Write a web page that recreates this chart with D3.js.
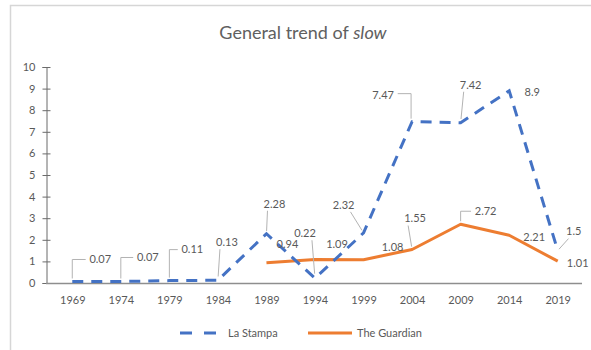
<!DOCTYPE html>
<html>
<head>
<meta charset="utf-8">
<script src="https://cdn.jsdelivr.net/npm/d3@7"></script>
<style>
  html, body { margin: 0; padding: 0; background: #fff; }
  svg { display: block; font-family: Lato, "Open Sans", sans-serif; }
</style>
</head>
<body>
<svg id="chart" width="591" height="350"></svg>
<script>
// Years on the category axis
const years = ["1969", "1974", "1979", "1984", "1989", "1994", "1999", "2004", "2009", "2014", "2019"];
// Frequency of "slow" per period
const laStampa = [0.07, 0.07, 0.11, 0.13, 2.28, 0.22, 2.32, 7.47, 7.42, 8.9, 1.5];
const theGuardian = [null, null, null, null, 0.94, 1.09, 1.08, 1.55, 2.72, 2.21, 1.01];
const yTicks = [0, 1, 2, 3, 4, 5, 6, 7, 8, 9, 10];
const seriesNames = ["La Stampa", "The Guardian"];

// Data-label placement (offset of label centre from its point, and leader style)
const stampaLabelPos = [
  {dx: 28, dy: -22, leader: "elbow"},
  {dx: 27, dy: -24, leader: "elbow"},
  {dx: 23, dy: -31, leader: "elbow"},
  {dx: 9, dy: -38, leader: "line"},
  {dx: 8, dy: -30, leader: "line"},
  {dx: -10, dy: -45, leader: "line"},
  {dx: -20, dy: -28, leader: "line"},
  {dx: -29, dy: -26, leader: "elbowLeft"},
  {dx: 10, dy: -38, leader: "line"},
  {dx: 23, dy: 1, leader: "none"},
  {dx: 16, dy: -19, leader: "line"}
];
const guardianLabelPos = [
  null, null, null, null,
  {dx: 21, dy: -19, leader: "none"},
  {dx: 22, dy: -15, leader: "none"},
  {dx: 29, dy: -13, leader: "none"},
  {dx: 3, dy: -31, leader: "line"},
  {dx: 25, dy: -13, leader: "elbow"},
  {dx: 25, dy: 2, leader: "none"},
  {dx: 20, dy: 2, leader: "none"}
];

const svg = d3.select("#chart");
const textColor = "#595959";
const blue = "#4472C4";
const orange = "#ED7D31";

// Chart frame
svg.append("rect")
  .attr("x", 10.5).attr("y", 5.5)
  .attr("width", 620).attr("height", 380)
  .attr("fill", "#fff")
  .attr("stroke", "#d6d6d6")
  .attr("stroke-width", 1.5);

// Title
const title = svg.append("text")
  .attr("x", 303).attr("y", 39)
  .attr("text-anchor", "middle")
  .attr("fill", "#606060")
  .attr("font-size", 18);
title.append("tspan").text("General trend of ");
title.append("tspan").attr("font-style", "italic").text("slow");

// Scales
const x = d3.scalePoint().domain(years).range([48, 582]).padding(0.5);
const y = d3.scaleLinear().domain([0, 10]).range([283, 67]);

// Y axis with cross tick marks
const yAxis = svg.append("g")
  .attr("transform", "translate(46.5,0)")
  .call(d3.axisLeft(y).tickValues(yTicks).tickSize(4).tickPadding(7));
yAxis.select(".domain").attr("stroke", "#6b6b6b");
yAxis.selectAll(".tick line").attr("stroke", "#6b6b6b").attr("x1", 4).attr("x2", -4);
yAxis.selectAll(".tick text")
  .attr("fill", textColor).attr("font-size", 11).attr("font-family", "Lato, sans-serif");

// X axis
const xAxis = svg.append("g")
  .attr("transform", "translate(0,283.5)")
  .call(d3.axisBottom(x).tickSize(0).tickPadding(13));
xAxis.select(".domain").attr("stroke", "#8e8e8e").attr("stroke-width", 1.5)
  .attr("d", "M46,0H582");
xAxis.selectAll(".tick text")
  .attr("fill", textColor).attr("font-size", 11).attr("font-family", "Lato, sans-serif");

// Lines
const line = d3.line()
  .defined(d => d.v !== null)
  .x(d => x(d.year))
  .y(d => y(d.v));

const stampaData = years.map((yr, i) => ({year: yr, v: laStampa[i]}));
const guardianData = years.map((yr, i) => ({year: yr, v: theGuardian[i]}));

svg.append("path")
  .datum(guardianData)
  .attr("fill", "none")
  .attr("stroke", orange)
  .attr("stroke-width", 3)
  .attr("stroke-linejoin", "round")
  .attr("d", line);

svg.append("path")
  .datum(stampaData)
  .attr("fill", "none")
  .attr("stroke", blue)
  .attr("stroke-width", 3)
  .attr("stroke-dasharray", "11,8")
  .attr("d", line);

// Data labels with leader lines
function drawLabels(data, positions) {
  const g = svg.append("g");
  data.forEach((d, i) => {
    const pos = positions[i];
    if (d.v === null || !pos) return;
    const px = x(d.year), py = y(d.v);
    const lx = px + pos.dx, ly = py + pos.dy;
    const label = String(d.v);
    const halfW = label.length * 2.9;
    let pts = null;
    if (pos.leader === "elbow") {
      pts = [[px, py - 3], [px, ly], [lx - halfW - 3, ly]];
    } else if (pos.leader === "elbowLeft") {
      pts = [[lx + halfW + 3, ly - 2], [px - 1, ly - 2], [px - 1, py - 3]];
    } else if (pos.leader === "line") {
      const sx = pos.dx > 0 ? lx - halfW * 0.6 : lx + halfW * 0.6;
      const sy = ly + 7;
      const t = 0.12;
      pts = [[px + (sx - px) * t, py + (sy - py) * t], [sx, sy]];
    }
    if (pts) {
      g.append("path")
        .attr("d", d3.line()(pts))
        .attr("fill", "none")
        .attr("stroke", "#b3b3b3")
        .attr("stroke-width", 1);
    }
    g.append("text")
      .attr("x", lx).attr("y", ly)
      .attr("dy", "0.35em")
      .attr("text-anchor", "middle")
      .attr("fill", textColor)
      .attr("font-size", 11)
      .text(label);
  });
}
drawLabels(stampaData, stampaLabelPos);
drawLabels(guardianData, guardianLabelPos);

// Legend
const legend = svg.append("g").attr("font-size", 11).attr("fill", textColor);
legend.append("line")
  .attr("x1", 180).attr("x2", 216).attr("y1", 333).attr("y2", 333)
  .attr("stroke", blue).attr("stroke-width", 3).attr("stroke-dasharray", "12,12");
legend.append("text").attr("x", 228).attr("y", 333).attr("dy", "0.35em").text(seriesNames[0]);
legend.append("line")
  .attr("x1", 308).attr("x2", 352).attr("y1", 333).attr("y2", 333)
  .attr("stroke", orange).attr("stroke-width", 3);
legend.append("text").attr("x", 357).attr("y", 333).attr("dy", "0.35em").text(seriesNames[1]);
</script>
</body>
</html>
